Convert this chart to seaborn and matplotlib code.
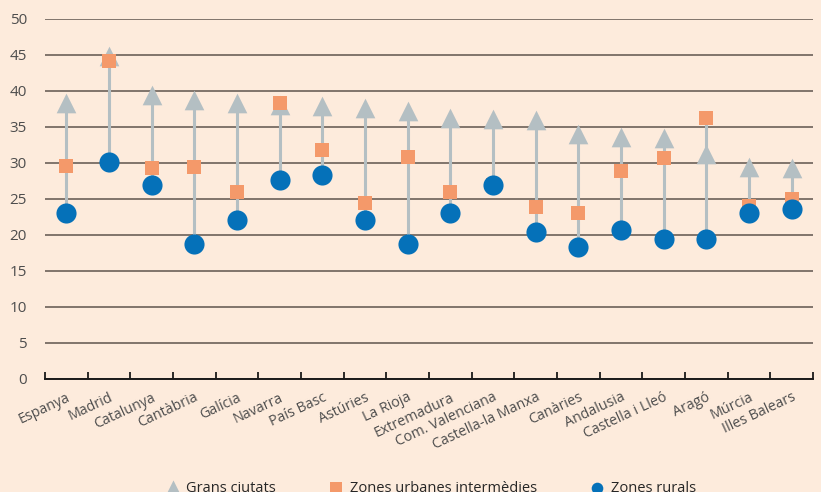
import numpy as np
import pandas as pd
import matplotlib
matplotlib.use("Agg")
import matplotlib.pyplot as plt
import seaborn as sns

# dades
regions = ["Espanya", "Madrid", "Catalunya", "Cantàbria", "Galícia", "Navarra",
           "País Basc", "Astúries", "La Rioja", "Extremadura", "Com. Valenciana",
           "Castella-la Manxa", "Canàries", "Andalusia", "Castella i Lleó",
           "Aragó", "Múrcia", "Illes Balears"]
grans_ciutats = [38.3, 44.9, 39.5, 38.8, 38.3, 38.1, 37.9, 37.6, 37.2, 36.3, 36.1,
                 36.0, 34.0, 33.6, 33.5, 31.2, 29.5, 29.3]
zones_intermedies = [29.6, 44.2, 29.3, 29.5, 26.0, 38.4, 31.8, 24.5, 30.9, 26.0, 26.9,
                     23.9, 23.1, 28.9, 30.7, 36.3, 24.0, 25.0]
zones_rurals = [23.0, 30.1, 27.0, 18.8, 22.1, 27.6, 28.4, 22.1, 18.8, 23.0, 27.0,
                20.4, 18.3, 20.7, 19.5, 19.5, 23.0, 23.6]
series = ["Grans ciutats", "Zones urbanes intermèdies", "Zones rurals"]

df = pd.DataFrame({"regio": regions, series[0]: grans_ciutats,
                   series[1]: zones_intermedies, series[2]: zones_rurals})
long = df.melt(id_vars="regio", var_name="tipus", value_name="valor")

bg = "#fdebdc"
colors = {series[0]: "#b4bfc3", series[1]: "#f4996a", series[2]: "#0571b9"}
markers = {series[0]: "^", series[1]: "s", series[2]: "o"}
sizes = {series[0]: 200, series[1]: 105, series[2]: 210}
leg_sizes = [135, 65, 70]

sns.set_style("white")
plt.rcParams["font.family"] = ["Open Sans", "DejaVu Sans"]

fig = plt.figure(figsize=(8.21, 4.92), dpi=100, facecolor=bg)
ax = fig.add_axes([45 / 821, 1 - 379 / 492, 768 / 821, 360 / 492])
ax.set_facecolor(bg)

# línies verticals
x = np.arange(len(regions))
lo = df[series].min(axis=1)
hi = df[series].max(axis=1)
ax.vlines(x, lo, hi, color="#b4bfc3", lw=2.2, zorder=2)

for s in series:
    sub = long[long["tipus"] == s]
    sns.scatterplot(data=sub, x="regio", y="valor", marker=markers[s], s=sizes[s],
                    color=colors[s], linewidth=0, ax=ax, zorder=3, clip_on=False,
                    label=s)

ax.set_ylim(0, 50)
ax.set_xlim(-0.5, len(regions) - 0.5)
ax.set_yticks(range(0, 51, 5))
ax.yaxis.grid(True, color="#5e544d", lw=1.1)
ax.set_axisbelow(True)
for sp in ["top", "right", "left"]:
    ax.spines[sp].set_visible(False)
ax.spines["bottom"].set_color("#1a1a1a")
ax.spines["bottom"].set_linewidth(1.4)
ax.spines["bottom"].set_zorder(4)

ax.set_xticks(x)
ax.set_xticklabels(regions, rotation=25, ha="right", va="top",
                   rotation_mode="anchor", fontsize=10.3, color="#4d4d4d")
ax.set_xticks(np.arange(-0.5, len(regions)), minor=True)
ax.tick_params(axis="x", which="major", length=0, pad=8, bottom=True)
ax.tick_params(axis="x", which="minor", length=5, width=1.3, direction="in",
               color="#1a1a1a", bottom=True)
ax.tick_params(axis="y", length=0, pad=13, labelsize=11, labelcolor="#4d4d4d")
ax.set_xlabel("")
ax.set_ylabel("")

sns.move_legend(ax, "center", bbox_to_anchor=(0.501, -0.305), ncol=3,
                frameon=False, title=None, fontsize=10.5, columnspacing=3.5,
                handletextpad=0.35, handlelength=1.2)
for h, sz in zip(ax.get_legend().legend_handles, leg_sizes):
    h.set_sizes([sz])

fig.savefig("out.png", dpi=100, facecolor=bg)
